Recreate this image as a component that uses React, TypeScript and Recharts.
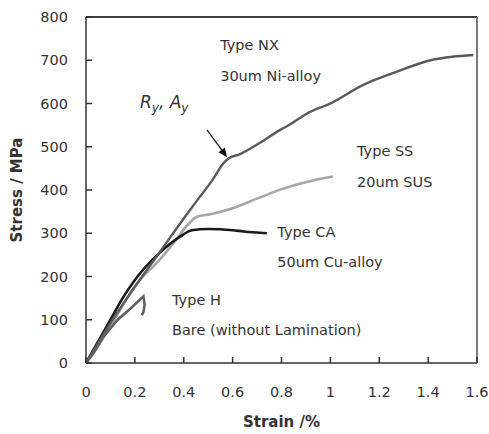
import React from 'react';
import { LineChart, Line, XAxis, YAxis, ReferenceDot, ReferenceLine } from 'recharts';

// strain (%) / stress (MPa)
const nxStrain = [0, 0.05, 0.1, 0.2, 0.3, 0.4, 0.46, 0.52, 0.56, 0.583, 0.631, 0.7, 0.795, 0.836, 0.905, 1.0, 1.135, 1.27, 1.41, 1.5, 1.585];
const nxStress = [0, 46, 92, 176, 255, 334, 380, 425, 460, 473, 483, 505, 539, 552, 577, 600, 643, 673, 700, 708, 712];

const ssStrain = [0, 0.05, 0.1, 0.2, 0.3, 0.358, 0.42, 0.454, 0.508, 0.6, 0.7, 0.8, 0.9, 1.011];
const ssStress = [0, 40, 85, 178, 238, 277, 322, 338, 344, 358, 380, 402, 418, 431];

const caStrain = [0, 0.05, 0.1, 0.15, 0.2, 0.3, 0.385, 0.433, 0.5, 0.6, 0.645, 0.74];
const caStress = [0, 50, 100, 150, 192, 254, 292, 307, 310, 307, 304, 300];

const hStrain = [0, 0.03, 0.07, 0.1, 0.13, 0.18, 0.235, 0.24, 0.235, 0.228];
const hStress = [0, 22, 60, 80, 100, 125, 154, 135, 118, 110];

const xTicks = [0, 0.2, 0.4, 0.6, 0.8, 1, 1.2, 1.4, 1.6];
const yTicks = [0, 100, 200, 300, 400, 500, 600, 700, 800];

const noteText = ['Type NX', '30um Ni-alloy', 'Type SS', '20um SUS', 'Type CA', '50um Cu-alloy', 'Type H', 'Bare (without Lamination)'];
const noteX = [0.549, 0.549, 1.109, 1.109, 0.783, 0.783, 0.352, 0.352];
const noteY = [736, 664, 491, 419, 304, 234, 146, 77];

const toPoints = (xs: number[], ys: number[]) => xs.map((x, i) => ({ x, y: ys[i] }));

const FONT = '"DejaVu Sans", Verdana, sans-serif';
const TEXT = '#333333';
const AXIS = '#333333';

const NoteShape = (text: string) => (props: any) => (
  <text x={props.cx} y={props.cy} dy="0.35em" fontSize={14.5} fill={TEXT} fontFamily={FONT}>
    {text}
  </text>
);

const RyShape = (props: any) => (
  <text x={props.cx} y={props.cy} dy="0.35em" fontSize={17} fill={TEXT} fontFamily={FONT} fontStyle="italic">
    <tspan>R</tspan>
    <tspan fontSize={12} dy="4">y</tspan>
    <tspan dy="-4">, A</tspan>
    <tspan fontSize={12} dy="4">y</tspan>
  </text>
);

const ArrowShape = (props: any) => {
  const { x1, y1, x2, y2 } = props;
  const ang = Math.atan2(y2 - y1, x2 - x1);
  const len = 9;
  const w = 4;
  const bx = x2 - len * Math.cos(ang);
  const by = y2 - len * Math.sin(ang);
  const px = -Math.sin(ang) * w;
  const py = Math.cos(ang) * w;
  return (
    <g>
      <line x1={x1} y1={y1} x2={bx} y2={by} stroke="#111" strokeWidth={1.2} />
      <polygon points={`${x2},${y2} ${bx + px},${by + py} ${bx - px},${by - py}`} fill="#111" />
    </g>
  );
};

// plot frame edges (top dark, right lighter grey)
const EdgeShape = (color: string, width: number) => (props: any) => (
  <path d={`M${props.x1},${props.y1}L${props.x2},${props.y2}`} stroke={color} strokeWidth={width} fill="none" />
);

// tick labels with short inward tick marks, like the original
const XTick = (props: any) => {
  const { x, y, payload } = props;
  const axisY = Number(y) - 24;
  return (
    <g>
      <path d={`M${x},${axisY}L${x},${axisY - 6}`} stroke={AXIS} strokeWidth={1.5} fill="none" />
      <text x={x} y={y} dy="0.71em" textAnchor="middle" fontSize={14.5} fill={TEXT} fontFamily={FONT}>
        {payload.value}
      </text>
    </g>
  );
};

const YTick = (props: any) => {
  const { x, y, payload } = props;
  const axisX = Number(x) + 18;
  return (
    <g>
      <path d={`M${axisX},${y}L${axisX + 6},${y}`} stroke={AXIS} strokeWidth={1.5} fill="none" />
      <text x={x} y={y} dy="0.355em" textAnchor="end" fontSize={14.5} fill={TEXT} fontFamily={FONT}>
        {payload.value}
      </text>
    </g>
  );
};

export default function App() {
  return (
    <div style={{ position: 'absolute', left: 0, top: 0, background: '#fff' }}>
      <LineChart width={489} height={434} margin={{ top: 17, right: 12, left: 26, bottom: 11 }}>
        <XAxis
          dataKey="x"
          type="number"
          domain={[0, 1.6]}
          ticks={xTicks}
          height={60}
          tickSize={0}
          tickMargin={24}
          tickLine={false}
          tick={<XTick />}
          axisLine={{ stroke: AXIS, strokeWidth: 1.5 }}
          label={{ value: 'Strain /%', position: 'center', dy: 29, fontWeight: 'bold', fontSize: 15, fill: TEXT, fontFamily: FONT }}
        />
        <YAxis
          dataKey="y"
          type="number"
          domain={[0, 800]}
          ticks={yTicks}
          width={60}
          tickSize={0}
          tickMargin={18}
          tickLine={false}
          tick={<YTick />}
          axisLine={{ stroke: AXIS, strokeWidth: 1.5 }}
          label={{ value: 'Stress / MPa', angle: -90, position: 'center', dx: -39, fontWeight: 'bold', fontSize: 15, fill: TEXT, fontFamily: FONT }}
        />
        <ReferenceLine y={800} stroke={AXIS} strokeWidth={1.5} strokeOpacity={1} ifOverflow="extendDomain" />
        <ReferenceLine x={1.6} stroke="#7a7a7a" strokeWidth={2} strokeOpacity={1} ifOverflow="extendDomain" />
        <ReferenceLine segment={[{ x: 0, y: 800 }, { x: 1.6, y: 800 }]} ifOverflow="visible" shape={EdgeShape(AXIS, 1.5)} />
        <ReferenceLine segment={[{ x: 1.6, y: 0 }, { x: 1.6, y: 800 }]} ifOverflow="visible" shape={EdgeShape('#7a7a7a', 2)} />

        <Line data={toPoints(ssStrain, ssStress)} dataKey="y" type="monotone" stroke="#a6a6a6" strokeWidth={2.6} dot={false} isAnimationActive={false} />
        <Line data={toPoints(caStrain, caStress)} dataKey="y" type="monotone" stroke="#1a1a1a" strokeWidth={2.6} dot={false} isAnimationActive={false} />
        <Line data={toPoints(nxStrain, nxStress)} dataKey="y" type="monotone" stroke="#5a5a5a" strokeWidth={2.4} dot={false} isAnimationActive={false} />
        <Line data={toPoints(hStrain, hStress)} dataKey="y" type="linear" stroke="#606060" strokeWidth={2.6} dot={false} isAnimationActive={false} />

        {noteText.map((t, i) => (
          <ReferenceDot key={t} x={noteX[i]} y={noteY[i]} r={0} ifOverflow="visible" shape={NoteShape(t)} />
        ))}
        <ReferenceDot x={0.221} y={604} r={0} ifOverflow="visible" shape={RyShape} />
        <ReferenceLine segment={[{ x: 0.495, y: 539 }, { x: 0.577, y: 476 }]} ifOverflow="visible" shape={ArrowShape} />
      </LineChart>
    </div>
  );
}
